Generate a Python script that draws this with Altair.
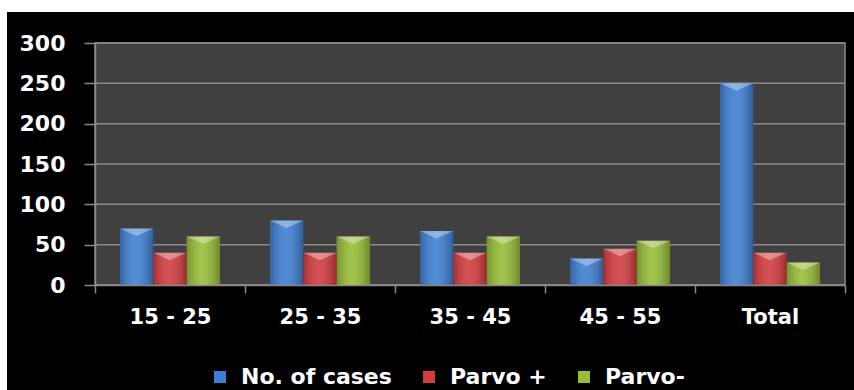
import altair as alt
import pandas as pd

# Age groups and the three counted series
groups = ["15 - 25", "25 - 35", "35 - 45", "45 - 55", "Total"]
series = ["No. of cases", "Parvo +", "Parvo-"]
cases = [70, 80, 67, 33, 250]
parvo_pos = [40, 40, 40, 45, 40]
parvo_neg = [60, 60, 60, 55, 28]
y_ticks = [0, 50, 100, 150, 200, 250, 300]
palette = ["#3f7fd2", "#d23c40", "#98bd37"]

rows = []
for name, vals in zip(series, [cases, parvo_pos, parvo_neg]):
    for g, v in zip(groups, vals):
        rows.append({"group": g, "series": name, "value": v})
df = pd.DataFrame(rows)
grid_df = pd.DataFrame({"tick": y_ticks})
one = pd.DataFrame({"k": [0]})

W, H = 750, 242
FONT = "DejaVu Sans"
LINE = "#8a8a8a"

y_scale = alt.Scale(domain=[0, 300], nice=False, zero=True)
x_scale = alt.Scale(paddingInner=0, paddingOuter=0)
# each group fills two thirds of its slot, centred
off_scale = alt.Scale(paddingInner=0, paddingOuter=0.75)

x_axis = alt.Axis(
    tickBand="extent", tickSize=8, tickColor=LINE, tickWidth=1.5,
    domainColor=LINE, domainWidth=1.5, labelAngle=0, labelPadding=13,
    labelFont=FONT, labelFontWeight="bold", labelFontSize=21,
    labelColor="white", grid=False, zindex=1,
)
y_axis = alt.Axis(
    values=y_ticks, grid=False, tickSize=11, tickColor=LINE, tickWidth=1.5,
    domainColor=LINE, domainWidth=1.5, labelPadding=19,
    labelFont=FONT, labelFontWeight="bold", labelFontSize=22,
    labelColor="white", zindex=1,
)

x_enc = alt.X("group:N", sort=groups, scale=x_scale, title=None, axis=x_axis)
off_enc = alt.XOffset("series:N", sort=series, scale=off_scale)
y_enc = alt.Y("value:Q", scale=y_scale, title=None, axis=y_axis)

# black panel behind everything
backdrop = alt.Chart(one).mark_rect(color="black").encode(
    x=alt.value(-88), x2=alt.value(W + 9), y=alt.value(-31), y2=alt.value(H + 105)
)

# dark plot area with light frame
plot_bg = alt.Chart(one).mark_rect(fill="#404040", stroke=LINE, strokeWidth=1.5).encode(
    x=alt.value(0), x2=alt.value(W), y=alt.value(0), y2=alt.value(H)
)

gridlines = alt.Chart(grid_df).mark_rule(color=LINE, strokeWidth=1.5).encode(
    y=alt.Y("tick:Q", scale=y_scale, title=None, axis=y_axis),
    x=alt.value(0), x2=alt.value(W),
)

bars = alt.Chart(df).mark_bar().encode(
    x=x_enc, xOffset=off_enc, y=y_enc,
    color=alt.Color(
        "series:N", sort=series,
        scale=alt.Scale(domain=series, range=palette),
        legend=alt.Legend(
            orient="none", legendX=114, legendY=323, direction="horizontal",
            title=None, symbolType="square", symbolSize=144, symbolStrokeWidth=0,
            symbolOpacity=1, labelFont=FONT, labelFontWeight="bold",
            labelFontSize=22, labelColor="white", labelOffset=10, columnPadding=26,
        ),
    ),
)

# cylinder-like shading across each bar
shine = alt.Chart(df).mark_bar(
    fill=alt.Gradient(
        gradient="linear", x1=0, x2=1, y1=0, y2=0,
        stops=[
            alt.GradientStop(offset=0, color="rgba(0,0,0,0.22)"),
            alt.GradientStop(offset=0.45, color="rgba(255,255,255,0.10)"),
            alt.GradientStop(offset=1, color="rgba(0,0,0,0.28)"),
        ],
    )
).encode(x=x_enc, xOffset=off_enc, y=y_enc)

# bevelled highlight on each bar top
caps = alt.Chart(df).mark_point(
    shape="M-1,0L1,0L0,0.45Z", size=1111, filled=True, fill="white",
    opacity=0.35, strokeWidth=0,
).encode(x=x_enc, xOffset=off_enc, y=y_enc)

chart = alt.layer(backdrop, plot_bg, gridlines, bars, shine, caps).properties(
    width=W, height=H,
    autosize=alt.AutoSizeParams(type="none"),
    padding={"left": 95, "top": 43, "right": 9, "bottom": 105},
    background="white",
).configure_view(stroke=None)

chart.save("out.html", embed_options={"renderer": "svg", "actions": False})
